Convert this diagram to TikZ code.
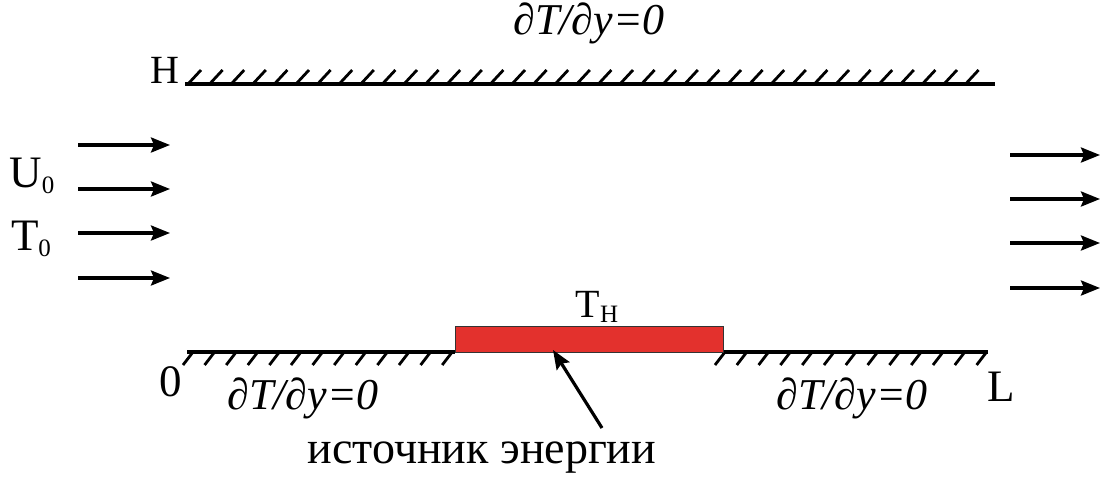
\documentclass[tikz,border=0pt]{standalone}
\usepackage{fontspec}
\setmainfont{Liberation Serif}
\usetikzlibrary{arrows.meta}
\definecolor{heatred}{HTML}{E3312D}
\newcommand{\lsub}[1]{\raisebox{-0.28ex}{\fontsize{25}{25}\selectfont #1}}
\begin{document}
\begin{tikzpicture}[x=1pt,y=-1pt,
  lbl/.style={inner sep=0pt,font=\fontsize{45}{50}\selectfont},
  bc/.style={inner sep=0pt,font=\fontsize{44}{50}\selectfont\itshape},
  flow/.style={line width=3.2pt,-{Stealth[length=19pt,width=15pt,inset=3pt]}},
  wall/.style={line width=3.4pt},
  hatch/.style={line width=2.8pt}]
\useasboundingbox (0,0) rectangle (1100,483);
% top wall
\coordinate (tl) at (185,84);
\coordinate (tr) at (995,84);
\draw[wall] (tl) -- (tr);
\foreach \i in {0,...,36} {\draw[hatch] (188+21.6*\i,84) -- ++(13,-14);}
% bottom walls
\coordinate (bl0) at (187,352);
\coordinate (bl1) at (455,352);
\coordinate (br0) at (722,352);
\coordinate (br1) at (988,352);
\draw[wall] (bl0) -- (bl1);
\draw[wall] (br0) -- (br1);
\foreach \i in {0,...,12} {\draw[hatch] (193+21.6*\i,352) -- ++(-10,13);}
\foreach \i in {0,...,12} {\draw[hatch] (725+21.8*\i,352) -- ++(-10,13);}
% heater
\node[draw=black!80,line width=1.4pt,fill=heatred,minimum width=268pt,minimum height=26pt,inner sep=0pt,anchor=south west] (src) at (455,353) {};
% labels
\node[lbl,font=\fontsize{40}{44}\selectfont] (H) at (165,70) {H};
\node[lbl] (U0) at (32,176) {U\lsub{0}};
\node[lbl] (T0) at (31,239) {T\lsub{0}};
\node[lbl] (zero) at (171,382) {0};
\node[lbl] (L) at (1001,387) {L};
\node[lbl,font=\fontsize{40}{44}\selectfont] (TH) at (597,307) {T\lsub{Н}};
\node[bc] (bcTop) at (589,23) {∂T/∂y=0};
\node[bc] (bcL) at (303,398) {∂T/∂y=0};
\node[bc] (bcR) at (852,398) {∂T/∂y=0};
\node[lbl,font=\fontsize{46}{50}\selectfont] (txt) at (482,458) {источник энергии};
% pointer arrow
\coordinate (pt) at (602,428);
\coordinate (ph) at (553,350);
\draw[flow] (pt) -- (ph);
% inflow arrows
\foreach \y [count=\k] in {145,189,233,278} {
  \coordinate (in\k a) at (78,\y);
  \coordinate (in\k b) at (170,\y);
  \draw[flow] (in\k a) -- (in\k b);
}
% outflow arrows
\foreach \y [count=\k] in {155,199,243,288} {
  \coordinate (out\k a) at (1010,\y);
  \coordinate (out\k b) at (1100,\y);
  \draw[flow] (out\k a) -- (out\k b);
}
\end{tikzpicture}
\end{document}
